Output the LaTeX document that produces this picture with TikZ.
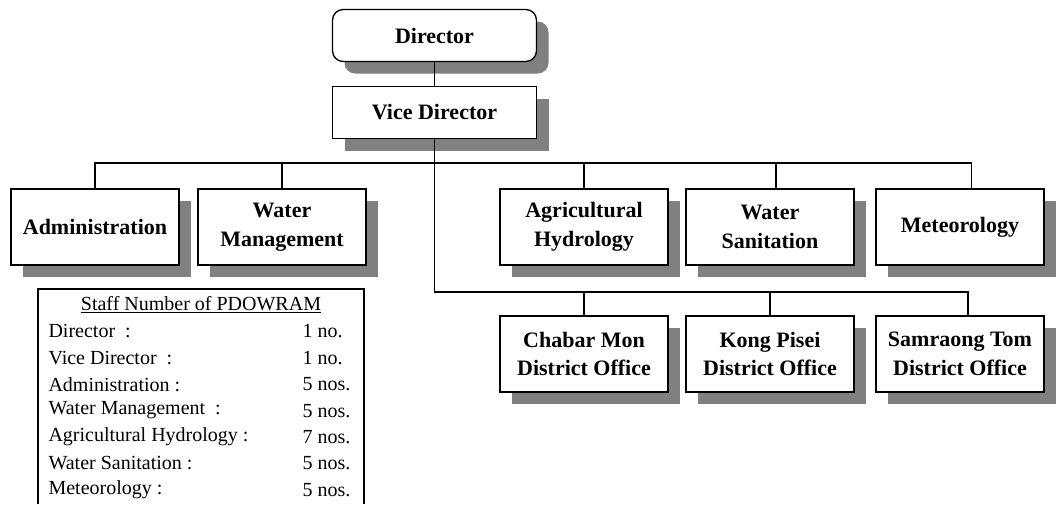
\documentclass[tikz,border=0pt]{standalone}
\usepackage{fontspec}
\setmainfont{Liberation Serif}
\usetikzlibrary{positioning,shadows}

\begin{document}
\begin{tikzpicture}[x=0.75pt, y=-0.75pt, line width=0.8pt]
  \tikzstyle{ubox}=[rectangle, draw=black, fill=white, line width=1pt,
                    minimum width=126pt, minimum height=57pt,
                    align=center, font=\fontsize{16.5}{21.5}\selectfont\bfseries,
                    drop shadow={shadow xshift=9pt, shadow yshift=-9pt,
                                 fill=black!50, opacity=1}]
  \tikzstyle{hbox}=[ubox, minimum width=153pt, minimum height=39pt]
  \tikzstyle{srow}=[anchor=west, inner sep=0pt, font=\fontsize{15}{18}\selectfont]

  \useasboundingbox (0,0) rectangle (1060,504);

  % head office
  \node[hbox, rounded corners=8pt] at (434.5, 35.5) (dir)  {Director};
  \node[hbox]                      at (434.5,112.5) (vice) {Vice Director};

  % sections
  \node[ubox] at ( 95,227) (admin) {Administration};
  \node[ubox] at (282,227) (wm)    {Water\\Management};
  \node[ubox] at (584,227) (ah)    {Agricultural\\Hydrology};
  \node[ubox] at (770,227) (ws)    {Water\\Sanitation};
  \node[ubox] at (960,227) (met)   {Meteorology};

  % district offices
  \node[ubox] at (584,354) (chabar) {Chabar Mon\\District Office};
  \node[ubox] at (770,354) (kong)   {Kong Pisei\\District Office};
  \node[ubox] at (960,354) (samr)   {Samraong Tom\\District Office};

  \coordinate (bus1) at (0,163);
  \coordinate (bus2) at (0,292);
  \coordinate (wsin)   at ([xshift=4.5pt]ws.north);
  \coordinate (metin)  at ([xshift=8.5pt]met.north);
  \coordinate (samrin) at ([xshift=6pt]samr.north);

  \draw (dir) -- (vice);
  \draw (vice.south) -- (vice.south |- bus2) -- (samrin |- bus2) -- (samrin);
  \draw (admin.north) -- (admin.north |- bus1) -- (metin |- bus1) -- (metin);
  \draw (wm.north) -- (wm.north |- bus1);
  \draw (ah.north) -- (ah.north |- bus1);
  \draw (wsin) -- (wsin |- bus1);
  \draw (chabar.north) -- (chabar.north |- bus2);
  \draw (kong.north) -- (kong.north |- bus2);

  % staff table
  \draw[line width=1pt] (38,504) -- (38,289) -- (364,289) -- (364,504);
  \node[font=\fontsize{15}{18}\selectfont] at (201,305) (stitle)
       {\underline{Staff Number of PDOWRAM}};

  \node[srow] at (48,331.4) (s1) {Director~ :};
  \node[srow] at (48,357.8) (s2) {Vice Director~ :};
  \node[srow] at (48,384.2) (s3) {Administration :};
  \node[srow] at (48,410.6) (s4) {Water Management~ :};
  \node[srow] at (48,437.0) (s5) {Agricultural Hydrology :};
  \node[srow] at (48,463.4) (s6) {Water Sanitation :};
  \node[srow] at (48,489.8) (s7) {Meteorology :};

  \node[srow] at (302,331.4) (n1) {1 no.};
  \node[srow] at (302,357.8) (n2) {1 no.};
  \node[srow] at (302,384.2) (n3) {5 nos.};
  \node[srow] at (302,410.6) (n4) {5 nos.};
  \node[srow] at (302,437.0) (n5) {7 nos.};
  \node[srow] at (302,463.4) (n6) {5 nos.};
  \node[srow] at (302,489.8) (n7) {5 nos.};
\end{tikzpicture}
\end{document}
